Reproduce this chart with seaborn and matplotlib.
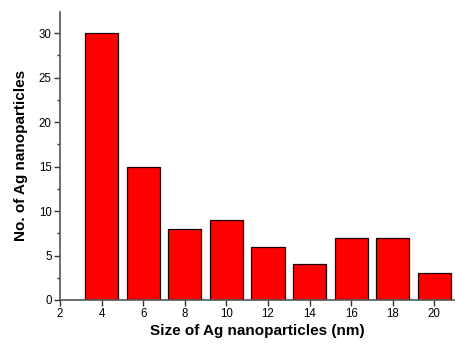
import pandas as pd
import seaborn as sns
import matplotlib.pyplot as plt
from matplotlib.ticker import MultipleLocator

# particle size bins (nm) and counts
sizes = [4, 6, 8, 10, 12, 14, 16, 18, 20]
counts = [30, 15, 8, 9, 6, 4, 7, 7, 3]

df = pd.DataFrame({'size': sizes, 'count': counts})

sns.set_style('ticks')
plt.rcParams['font.family'] = ['Liberation Sans', 'DejaVu Sans']
plt.rcParams['text.color'] = 'black'
plt.rcParams['axes.labelcolor'] = 'black'
plt.rcParams['xtick.labelcolor'] = 'black'
plt.rcParams['ytick.labelcolor'] = 'black'

fig = plt.figure(figsize=(4.55, 3.48), dpi=100)
ax = fig.add_axes([0.132, 0.138, 0.866, 0.828])

sns.barplot(data=df, x='size', y='count', native_scale=True, width=0.8,
            color='#ff0000', saturation=1, edgecolor='#1a0000', linewidth=0.9, ax=ax)

ax.set_xlim(2, 20.95)
ax.set_ylim(0, 32.4)
ax.xaxis.set_major_locator(MultipleLocator(2))
ax.yaxis.set_major_locator(MultipleLocator(5))
ax.yaxis.set_minor_locator(MultipleLocator(2.5))
ax.tick_params(axis='both', which='major', labelsize=8.3, length=4, width=1, color='#333333', pad=2)
ax.tick_params(axis='y', which='minor', length=2.5, width=1, color='#333333')
sns.despine(ax=ax)
for s in ['left', 'bottom']:
    ax.spines[s].set_color('#555555')
    ax.spines[s].set_linewidth(1.2)

ax.set_xlabel('Size of Ag nanoparticles (nm)', fontsize=11, fontweight='bold', labelpad=3)
ax.set_ylabel('No. of Ag nanoparticles', fontsize=11, fontweight='bold', labelpad=8)

fig.savefig('out.png', dpi=100)
